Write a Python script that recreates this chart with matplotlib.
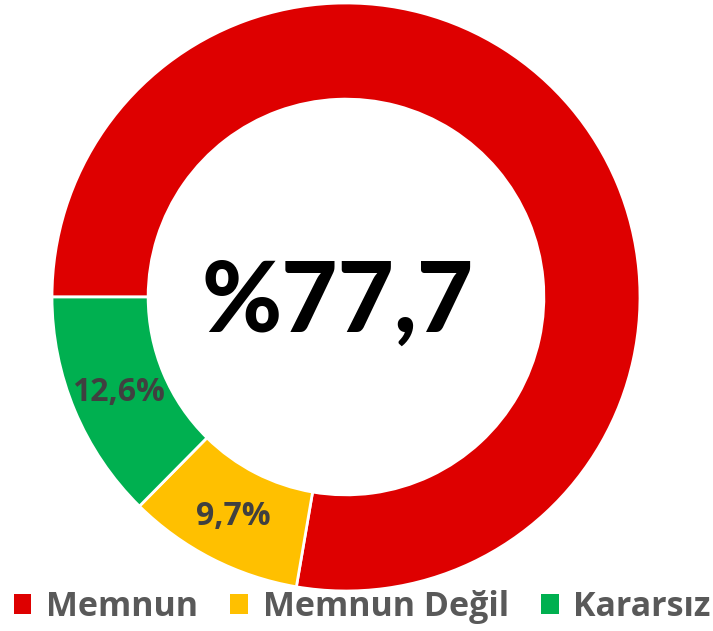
import matplotlib.pyplot as plt
from matplotlib.patches import Patch

labels = ['Memnun', 'Memnun Değil', 'Kararsız']
values = [77.7, 9.7, 12.6]
colors = ['#DE0000', '#FFC000', '#00B050']
center_text = '%77,7'

plt.rcParams['font.family'] = ['Open Sans', 'DejaVu Sans']

fig = plt.figure(figsize=(7.13, 6.31), dpi=100)
ax = fig.add_axes([52/713, 40/631, 588/713, 588/631])

def fmt(p):
    if p > 50:
        return ''
    return ('%.1f%%' % p).replace('.', ',')

wedges, texts, autotexts = ax.pie(values, colors=colors, startangle=180, counterclock=False,
                                  radius=1, autopct=fmt, pctdistance=0.84,
                                  wedgeprops=dict(width=0.327, edgecolor='white', linewidth=2),
                                  textprops=dict(fontsize=23, fontweight='bold', color='#404040'))
ax.set_xlim(-1, 1)
ax.set_ylim(-1, 1)
ax.set_aspect('equal')
ax.axis('off')

ax.text(-0.03, -0.02, center_text, ha='center', va='center', fontsize=70,
        fontweight='black', color='black', family=['Lato', 'DejaVu Sans'])

handles = [Patch(facecolor=c, edgecolor='none') for c in colors]
leg = fig.legend(handles, labels, loc='center', bbox_to_anchor=(0.508, 0.038), ncol=3,
                 frameon=False, fontsize=24.5, handlelength=0.52, handleheight=0.52,
                 handletextpad=0.43, columnspacing=0.95, borderpad=0, borderaxespad=0)
for t in leg.get_texts():
    t.set_color('#595959')
    t.set_fontweight('bold')

fig.savefig('out.png', dpi=100)
